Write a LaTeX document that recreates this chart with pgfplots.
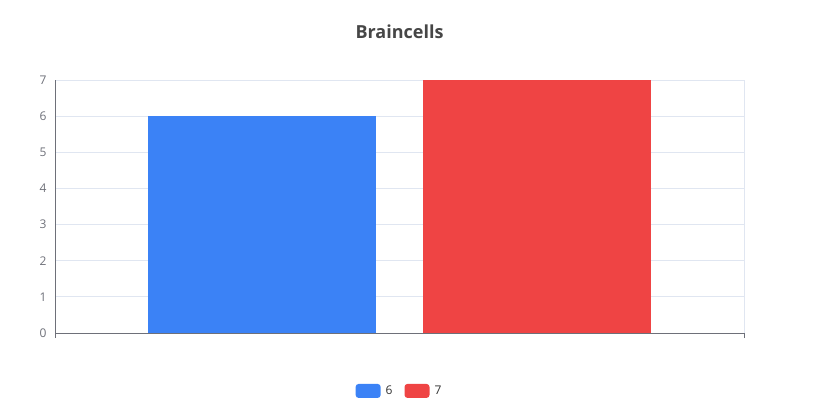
\documentclass[border=0pt]{standalone}
\usepackage{pgfplots}
\pgfplotsset{compat=1.18}
\usepackage{fontspec}
\setmainfont{Open Sans}
\definecolor{barblue}{HTML}{3B82F6}
\definecolor{barred}{HTML}{EF4444}
\definecolor{gridc}{HTML}{E0E6F1}
\definecolor{axisc}{HTML}{6E7079}
\definecolor{titlec}{HTML}{464646}
\definecolor{legc}{HTML}{333333}
\begin{document}
\begin{tikzpicture}[x=1pt,y=1pt]
\path[use as bounding box] (0,0) rectangle (813,412);
\node[font=\fontsize{18}{20}\selectfont\bfseries, text=titlec] at (399.5,380) {Braincells};
\begin{axis}[
  at={(55pt,79pt)}, anchor=south west,
  scale only axis, width=689pt, height=253pt,
  xmin=-0.5, xmax=0.5, ymin=0, ymax=7,
  ytick={0,1,2,3,4,5,6,7},
  xtick={-0.5,0.5}, xticklabels={,},
  axis lines=left,
  axis line style={-, draw=axisc, line width=0.8pt},
  xmajorgrids, ymajorgrids,
  grid style={draw=gridc, line width=0.8pt},
  tick align=outside,
  major tick length=5pt,
  xtick style={draw=axisc, line width=0.8pt},
  ytick style={draw=none},
  yticklabel style={font=\fontsize{12}{14}\selectfont, text=axisc},
  /pgf/number format/assume math mode=true,
  legend columns=2,
  legend style={draw=none, fill=none, at={(0.5,-0.229)}, anchor=center,
    font=\fontsize{12}{14}\selectfont, text=legc,
    /tikz/every even column/.append style={column sep=10pt}},
  legend image code/.code={\fill[#1, rounded corners=3pt] (0pt,-7pt) rectangle (25pt,7pt); \path (28pt,0pt);},
]
\addplot[ybar, bar shift=0pt, bar width=0.331, fill=barblue, draw=none] coordinates {(-0.2,6)};
\addplot[ybar, bar shift=0pt, bar width=0.331, fill=barred, draw=none] coordinates {(0.2,7)};
\legend{6,7}
\end{axis}
\end{tikzpicture}
\end{document}
